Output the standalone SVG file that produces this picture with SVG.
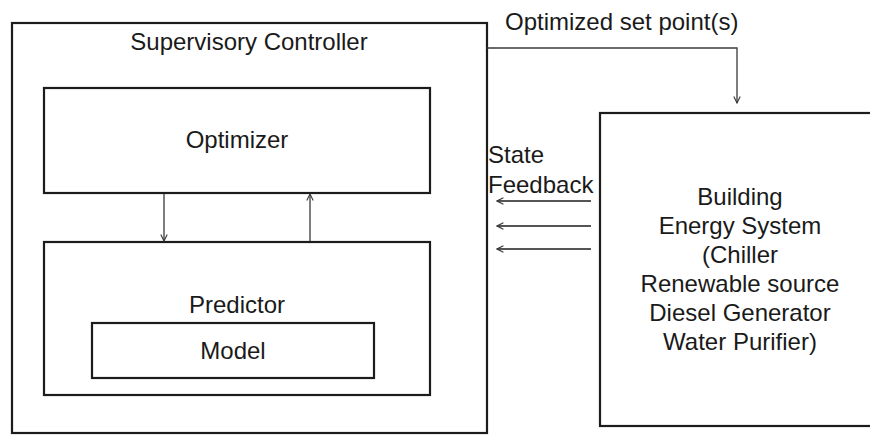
<svg xmlns="http://www.w3.org/2000/svg" width="870" height="435" viewBox="0 0 870 435">
  <style>
    .box { fill: #ffffff; stroke: #1c1c1c; stroke-width: 2.2; }
    .lbl { font-family: "Liberation Sans", Arial, sans-serif; font-size: 24px; fill: #1a1a1a; }
    .mid { text-anchor: middle; }
    .wire { fill: none; stroke: #3a3a3a; stroke-width: 1.3; }
    .fb { fill: none; stroke: #555555; stroke-width: 1.8; }
  </style>
  <defs>
    <marker id="chev" viewBox="0 0 10 10" refX="9" refY="5" markerWidth="8" markerHeight="8" markerUnits="userSpaceOnUse" orient="auto">
      <polyline points="1,1 9,5 1,9" fill="none" stroke="#3a3a3a" stroke-width="1.4"/>
    </marker>
  </defs>

  <rect width="870" height="435" fill="#ffffff"/>

  <g id="supervisory-controller">
    <rect class="box" x="12" y="23" width="475" height="410"/>
    <text class="lbl mid" x="249" y="50">Supervisory Controller</text>
  </g>

  <g id="optimizer">
    <rect class="box" x="44" y="88" width="386" height="105"/>
    <text class="lbl mid" x="237" y="148">Optimizer</text>
  </g>

  <g id="predictor">
    <rect class="box" x="44" y="242" width="386" height="153"/>
    <text class="lbl mid" x="237" y="313">Predictor</text>
  </g>

  <g id="model">
    <rect class="box" x="92" y="323" width="282" height="55"/>
    <text class="lbl mid" x="233" y="359">Model</text>
  </g>

  <!-- the plant block runs past the right edge of the canvas -->
  <g id="building-energy-system">
    <rect class="box" x="600" y="113" width="400" height="313"/>
    <text class="lbl mid" x="740" y="205">Building</text>
    <text class="lbl mid" x="740" y="234">Energy System</text>
    <text class="lbl mid" x="740" y="263">(Chiller</text>
    <text class="lbl mid" x="740" y="292">Renewable source</text>
    <text class="lbl mid" x="740" y="321">Diesel Generator</text>
    <text class="lbl mid" x="740" y="350">Water Purifier)</text>
  </g>

  <g id="connectors">
    <path class="wire" d="M487,48 H737 V103" marker-end="url(#chev)"/>
    <text class="lbl" x="505" y="30">Optimized set point(s)</text>

    <line class="wire" x1="164" y1="194" x2="164" y2="241" marker-end="url(#chev)"/>
    <line class="wire" x1="310" y1="241" x2="310" y2="194" marker-end="url(#chev)"/>

    <line class="fb" x1="591" y1="201" x2="497" y2="201" marker-end="url(#chev)"/>
    <line class="fb" x1="591" y1="226" x2="497" y2="226" marker-end="url(#chev)"/>
    <line class="fb" x1="591" y1="249" x2="497" y2="249" marker-end="url(#chev)"/>
    <text class="lbl" x="488" y="163">State</text>
    <text class="lbl" x="488" y="193">Feedback</text>
  </g>
</svg>
